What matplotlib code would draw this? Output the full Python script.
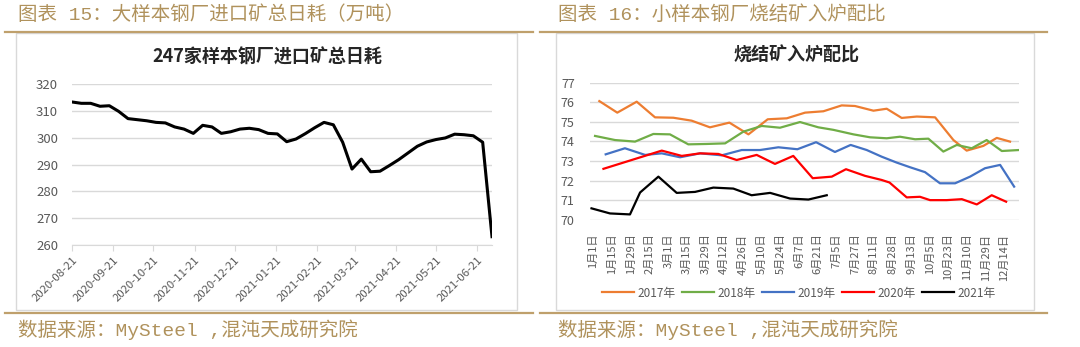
import numpy as np
import pandas as pd
import matplotlib
matplotlib.use('Agg')
import matplotlib.pyplot as plt
from matplotlib.patches import Rectangle
from matplotlib.lines import Line2D

plt.rcParams['font.family'] = ['Noto Sans CJK SC', 'DejaVu Sans']

W, H = 1080, 347
GOLD_TXT = '#b0925c'
GOLD_LINE = '#bfa06c'
GRID = '#d9d9d9'
TICK_TXT = '#595959'
CAPTION_FONT = ['Liberation Mono', 'Noto Sans CJK SC']

# ---- 图表15: 247家样本钢厂进口矿总日耗 (weekly, 万吨) ----
consume_start = '2020-08-21'
consume = [313.3, 312.8, 312.8, 311.7, 311.9, 309.8, 307.1, 306.7, 306.3, 305.7,
           305.5, 304.0, 303.2, 301.6, 304.6, 304.0, 301.6, 302.2, 303.2, 303.5,
           303.0, 301.6, 301.4, 298.5, 299.5, 301.5, 303.7, 305.7, 304.8, 298.3,
           288.3, 292.0, 287.3, 287.5, 289.6, 291.8, 294.3, 296.8, 298.4, 299.3,
           299.9, 301.3, 301.1, 300.7, 298.3, 263.1]
month_ticks = ['2020-08-21', '2020-09-21', '2020-10-21', '2020-11-21', '2020-12-21',
               '2021-01-21', '2021-02-21', '2021-03-21', '2021-04-21', '2021-05-21',
               '2021-06-21']

# ---- 图表16: 烧结矿入炉配比 ----
date_labels = ['1月1日', '1月15日', '1月29日', '2月15日', '3月1日', '3月15日', '3月29日',
               '4月12日', '4月26日', '5月10日', '5月24日', '6月7日', '6月21日', '7月5日',
               '7月27日', '8月11日', '8月28日', '9月13日', '10月5日', '10月23日',
               '11月10日', '11月29日', '12月14日']

# x given in label slots (0 = 1月1日)
x2017 = [0.32, 1.28, 2.32, 3.30, 4.28, 5.26, 6.24, 7.28, 8.30, 9.33, 10.35, 11.33, 12.31,
         13.29, 14.0, 14.99, 15.70, 16.50, 17.31, 18.29, 19.27, 19.98, 20.87, 21.59, 22.30]
v2017 = [76.06, 75.47, 76.03, 75.23, 75.21, 75.06, 74.72, 74.96, 74.36, 75.13, 75.18, 75.47,
         75.54, 75.84, 75.81, 75.57, 75.67, 75.20, 75.27, 75.23, 74.07, 73.53, 73.77, 74.18, 73.99]

x2018 = [0.09, 1.16, 2.23, 3.21, 4.10, 5.08, 6.07, 7.05, 8.03, 9.01, 9.99, 11.06, 12.04,
         12.85, 13.92, 14.81, 15.70, 16.41, 17.22, 17.93, 18.73, 19.45, 20.25, 21.05, 21.86, 22.78]
v2018 = [74.28, 74.07, 73.99, 74.38, 74.36, 73.85, 73.87, 73.90, 74.50, 74.79, 74.70, 74.99,
         74.72, 74.59, 74.36, 74.21, 74.16, 74.24, 74.11, 74.14, 73.48, 73.82, 73.65, 74.07,
         73.51, 73.56]

x2019 = [0.66, 1.69, 2.77, 3.66, 4.64, 5.71, 6.87, 7.94, 8.92, 9.90, 10.92, 11.92, 12.93,
         13.77, 14.63, 15.43, 16.23, 16.95, 17.75, 18.55, 19.36, 20.16, 20.96, 21.77, 22.52]
v2019 = [73.34, 73.65, 73.31, 73.39, 73.19, 73.39, 73.29, 73.56, 73.56, 73.70, 73.60, 73.96,
         73.46, 73.82, 73.56, 73.22, 72.92, 72.68, 72.43, 71.86, 71.86, 72.20, 72.63, 72.80, 71.69]

x2020 = [0.54, 3.66, 4.73, 5.71, 6.69, 7.67, 8.74, 9.72, 10.70, 11.74, 12.76, 13.52, 14.54,
         15.43, 15.85, 16.77, 17.48, 18.02, 18.91, 19.72, 20.52, 21.32, 22.09]
v2020 = [72.60, 73.53, 73.26, 73.39, 73.36, 73.05, 73.31, 72.85, 73.26, 72.12, 72.20, 72.58,
         72.24, 72.03, 71.90, 71.14, 71.17, 71.00, 71.00, 71.05, 70.78, 71.25, 70.92]

x2021 = [-0.10, 0.89, 1.96, 2.50, 3.48, 4.46, 5.44, 6.42, 7.49, 8.47, 9.46, 10.53, 11.51, 12.49]
v2021 = [70.58, 70.32, 70.27, 71.39, 72.20, 71.37, 71.42, 71.64, 71.59, 71.25, 71.37, 71.08,
         71.03, 71.25]

years = ['2017年', '2018年', '2019年', '2020年', '2021年']
colors = ['#ed7d31', '#70ad47', '#4472c4', '#ff0000', '#000000']


def fbox(x0, y0, x1, y1):
    return [x0 / W, 1 - y1 / H, (x1 - x0) / W, (y1 - y0) / H]


fig = plt.figure(figsize=(W / 100, H / 100), dpi=100)
fig.patch.set_facecolor('white')

# panel frames, gold rules, headers and sources
for x0, x1, bx0, bx1, head in [(5, 533, 16, 517, '图表 15：大样本钢厂进口矿总日耗（万吨）'),
                                (540, 1047, 556, 1034, '图表 16：小样本钢厂烧结矿入炉配比')]:
    fig.add_artist(Rectangle((bx0 / W, 1 - 310 / H), (bx1 - bx0) / W, (310 - 33) / H,
                             transform=fig.transFigure, fill=False, ec=GRID, lw=1))
    for yy in (32, 313):
        fig.add_artist(Line2D([x0 / W, x1 / W], [1 - yy / H] * 2, transform=fig.transFigure,
                              color=GOLD_LINE, lw=1.6))
    fig.text((bx0 + 2) / W, 1 - 15 / H, head, color=GOLD_TXT, fontsize=14, va='center',
             ha='left', family=CAPTION_FONT)
    fig.text((bx0 + 2) / W, 1 - 330 / H, '数据来源：MySteel ,混沌天成研究院', color=GOLD_TXT,
             fontsize=14, va='center', ha='left', family=CAPTION_FONT)

# left chart
ax1 = fig.add_axes(fbox(72, 84, 492, 245))
dates = pd.date_range(consume_start, periods=len(consume), freq='7D')
ax1.plot(dates, consume, color='black', lw=2.2, solid_joinstyle='round')
ax1.set_ylim(260, 320)
ax1.set_yticks(np.arange(260, 321, 10))
ax1.set_xlim(dates[0], dates[-1])
ax1.set_xticks(pd.to_datetime(month_ticks))
ax1.set_xticklabels(month_ticks, rotation=45, ha='right', rotation_mode='anchor')
ax1.grid(axis='y', color=GRID, lw=1)
ax1.set_axisbelow(True)
for s in ('top', 'right', 'left'):
    ax1.spines[s].set_visible(False)
ax1.spines['bottom'].set_color(GRID)
ax1.tick_params(axis='x', colors=GRID, length=4, labelcolor=TICK_TXT, labelsize=8.2, pad=3)
ax1.tick_params(axis='y', length=0, labelcolor=TICK_TXT, labelsize=9.5, pad=10)
fig.text(267 / W, 1 - 57 / H, '247家样本钢厂进口矿总日耗', fontsize=13, fontweight='bold',
         ha='center', va='center', color='#262626')

# right chart
ax2 = fig.add_axes(fbox(590, 82.7, 1019, 219.7))
for xs, vs, c, lab in zip([x2017, x2018, x2019, x2020, x2021],
                          [v2017, v2018, v2019, v2020, v2021], colors, years):
    ax2.plot(xs, vs, color=c, lw=1.6, label=lab, solid_joinstyle='round')
ax2.set_ylim(70, 77)
ax2.set_yticks(np.arange(70, 78, 1))
ax2.set_xlim(-0.18, 22.78)
ax2.set_xticks(np.arange(len(date_labels)))
ax2.set_xticklabels(date_labels, rotation=90, va='top', ha='center')
ax2.grid(axis='y', color=GRID, lw=1)
ax2.set_axisbelow(True)
for s in ax2.spines.values():
    s.set_visible(False)
ax2.tick_params(axis='x', length=0, labelcolor=TICK_TXT, labelsize=8, pad=10)
ax2.tick_params(axis='y', length=0, labelcolor=TICK_TXT, labelsize=9, pad=11)
fig.text(797 / W, 1 - 55 / H, '烧结矿入炉配比', fontsize=13, fontweight='bold',
         ha='center', va='center', color='#262626')
ax2.legend(loc='center', bbox_to_anchor=(799 / W, 1 - 293 / H), bbox_transform=fig.transFigure,
           ncol=5, frameon=False, fontsize=8.5, labelcolor=TICK_TXT, handlelength=2.7,
           handletextpad=0.3, columnspacing=0.55)

fig.savefig('out.png', dpi=100)
